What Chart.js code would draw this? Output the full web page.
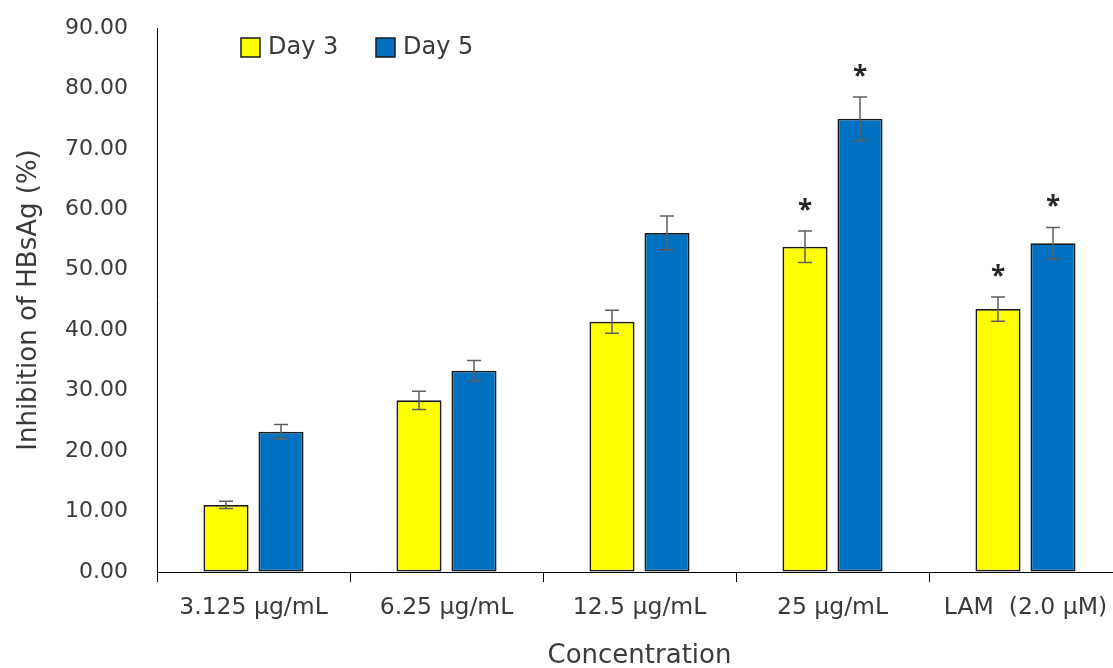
<!DOCTYPE html>
<html>
<head>
<meta charset="utf-8">
<script src="https://cdn.jsdelivr.net/npm/chart.js@4/dist/chart.umd.min.js"></script>
<style>
  html, body { margin: 0; padding: 0; background: #fff; overflow: hidden; }
  #wrap { width: 1125px; height: 668px; }
</style>
</head>
<body>
<div id="wrap"><canvas id="c" width="1125" height="668"></canvas></div>
<script>
// Concentrations tested
const categories = ['3.125 \u00b5g/mL', '6.25 \u00b5g/mL', '12.5 \u00b5g/mL', '25 \u00b5g/mL', 'LAM  (2.0 \u00b5M)'];

// Mean inhibition of HBsAg (%)
const day3 = [11.1, 28.4, 41.4, 53.8, 43.5];
const day5 = [23.2, 33.3, 56.1, 75.0, 54.4];

// Standard deviations
const day3Err = [0.6, 1.5, 1.9, 2.6, 2.0];
const day5Err = [1.2, 1.7, 2.8, 3.6, 2.6];

// Significance markers (*)
const day3Sig = [false, false, false, true, true];
const day5Sig = [false, false, false, true, true];

const yTicks = { min: 0, max: 90, step: 10 };

const FONT = "'DejaVu Sans', 'Open Sans', sans-serif";
const STAR_FONT = "'Open Sans', sans-serif";
const TEXT = '#3a3a3a';

const errorBars = {
  id: 'errorBars',
  afterDatasetsDraw(chart) {
    const ctx = chart.ctx;
    const y = chart.scales.y;
    chart.data.datasets.forEach((ds, i) => {
      const meta = chart.getDatasetMeta(i);
      meta.data.forEach((bar, j) => {
        const v = ds.data[j], e = ds.errors[j];
        const top = y.getPixelForValue(v + e);
        const bot = y.getPixelForValue(v - e);
        const cap = 7;
        ctx.save();
        ctx.strokeStyle = '#5f5f5f';
        ctx.lineWidth = 1.5;
        ctx.beginPath();
        ctx.moveTo(bar.x, top); ctx.lineTo(bar.x, bot);
        ctx.moveTo(bar.x - cap, top); ctx.lineTo(bar.x + cap, top);
        ctx.moveTo(bar.x - cap, bot); ctx.lineTo(bar.x + cap, bot);
        ctx.stroke();
        if (ds.sig[j]) {
          ctx.fillStyle = '#262626';
          ctx.font = 'bold 26px ' + STAR_FONT;
          ctx.textAlign = 'center';
          ctx.textBaseline = 'alphabetic';
          ctx.fillText('*', bar.x, top - 12);
        }
        ctx.restore();
      });
    });
  }
};

const legendBox = {
  id: 'legendBox',
  afterDraw(chart) {
    const ctx = chart.ctx;
    const area = chart.chartArea;
    const items = chart.data.datasets;
    const starts = [area.left + 84, area.left + 219];
    ctx.save();
    items.forEach((ds, i) => {
      const x = starts[i], yTop = area.top + 10;
      ctx.fillStyle = ds.backgroundColor;
      ctx.fillRect(x, yTop, 19, 19);
      ctx.strokeStyle = '#1a1a1a';
      ctx.lineWidth = 1.5;
      ctx.strokeRect(x, yTop, 19, 19);
      ctx.fillStyle = TEXT;
      ctx.font = '24px ' + FONT;
      ctx.textAlign = 'left';
      ctx.textBaseline = 'middle';
      ctx.fillText(ds.label, x + 27, yTop + 9.5);
    });
    ctx.restore();
  }
};

new Chart(document.getElementById('c'), {
  type: 'bar',
  data: {
    labels: categories,
    datasets: [
      { label: 'Day 3', data: day3, errors: day3Err, sig: day3Sig,
        backgroundColor: '#FFFF00', borderColor: '#1a1a1a', borderWidth: 1.8, borderSkipped: false,
        categoryPercentage: 0.57, barPercentage: 0.82 },
      { label: 'Day 5', data: day5, errors: day5Err, sig: day5Sig,
        backgroundColor: '#0070C0', borderColor: '#1a1a1a', borderWidth: 1.8, borderSkipped: false,
        categoryPercentage: 0.57, barPercentage: 0.82 }
    ]
  },
  options: {
    responsive: false,
    animation: false,
    layout: { padding: { left: 0, top: 28, right: 3, bottom: 0 } },
    plugins: { legend: { display: false }, tooltip: { enabled: false } },
    scales: {
      x: {
        grid: { display: true, drawOnChartArea: false, offset: true, tickLength: 10, color: '#000', lineWidth: 1 },
        border: { display: true, color: '#000', width: 1 },
        ticks: { color: TEXT, font: { family: FONT, size: 23.5 }, padding: 12, maxRotation: 0, autoSkip: false },
        title: { display: true, text: 'Concentration', color: TEXT, font: { family: FONT, size: 26, lineHeight: 0.9 }, padding: { top: 0, bottom: 0 } },
        afterFit(s) { s.height = 96; s.paddingLeft = 0; s.paddingRight = 0; }
      },
      y: {
        min: yTicks.min, max: yTicks.max,
        grid: { display: true, drawOnChartArea: false, drawTicks: false },
        border: { display: true, color: '#000', width: 1 },
        ticks: { stepSize: yTicks.step, color: TEXT, font: { family: FONT, size: 22 }, padding: 29,
                 callback: v => Number(v).toFixed(2) },
        title: { display: true, text: 'Inhibition of HBsAg (%)', color: TEXT, font: { family: FONT, size: 26 }, padding: { top: 14, bottom: 0 } },
        afterFit(s) { s.width = 157; s.paddingTop = 0; s.paddingBottom = 0; }
      }
    }
  },
  plugins: [errorBars, legendBox]
});
</script>
</body>
</html>
